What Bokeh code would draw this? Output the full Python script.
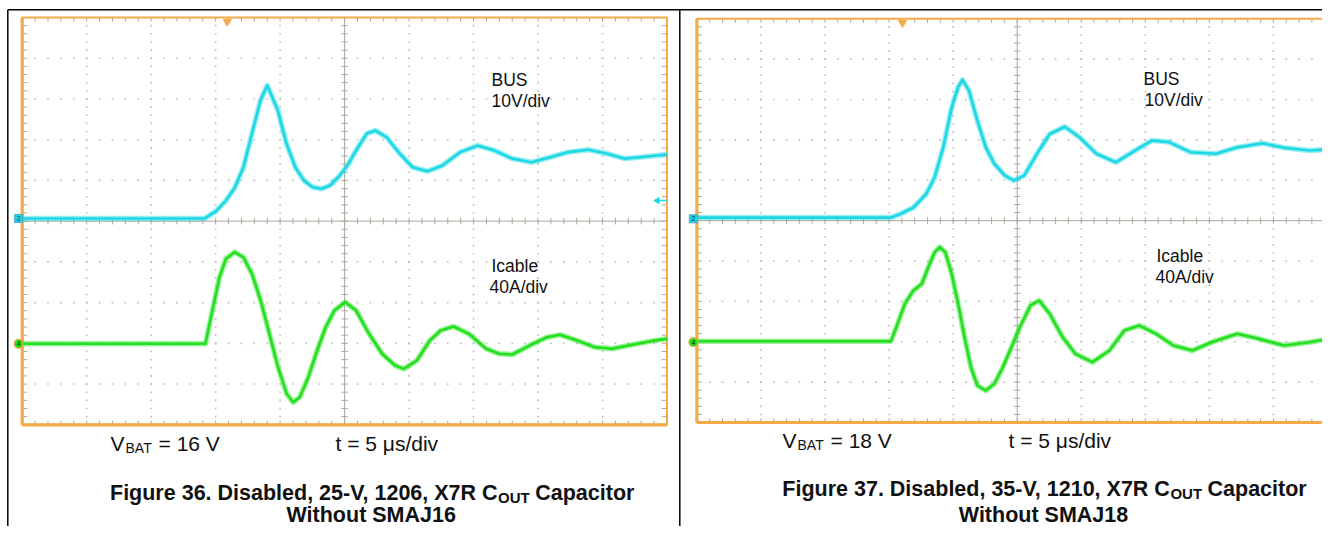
import math
import numpy as np
from bokeh.plotting import figure
from bokeh.models import Range1d
from bokeh.core.properties import value
from bokeh.embed import file_html
from bokeh.resources import INLINE

# ------------------------------------------------------------------ data
# time: µs from the left edge of each screen (5 µs/div, 10 div)
f36_bus_t = [0.0, 14.14, 15.03, 15.80, 16.46, 17.16, 17.82, 18.48, 19.00, 19.83,
             20.49, 21.19, 21.86, 22.51, 23.21, 23.87, 24.53, 25.22, 25.89, 26.73,
             27.40, 28.25, 29.26, 30.27, 31.43, 32.59, 33.96, 35.31, 36.62, 38.00,
             39.49, 41.02, 42.36, 43.88, 45.38, 46.73, 48.08, 50.0]
f36_bus_v = [0.0, 0.0, 1.8, 4.4, 7.4, 12.6, 20.9, 29.0, 32.7, 26.5,
             18.4, 12.5, 9.3, 7.7, 7.3, 8.1, 10.2, 13.0, 16.7, 20.9,
             21.6, 20.0, 16.0, 12.6, 11.6, 13.0, 16.3, 17.9, 16.7, 14.7,
             13.8, 15.1, 16.3, 16.9, 15.9, 14.7, 15.1, 15.7]
f36_icable_t = [0.0, 14.21, 14.80, 15.30, 15.80, 16.48, 17.15, 17.82, 18.49, 19.17,
                19.84, 20.51, 21.01, 21.52, 22.19, 22.87, 23.53, 24.21, 25.05, 25.89,
                26.90, 27.91, 28.92, 29.59, 30.60, 31.61, 32.45, 33.46, 34.63, 35.98,
                36.99, 38.00, 39.34, 40.69, 41.70, 43.04, 44.38, 45.73, 47.41, 48.76,
                50.0]
f36_icable_a = [0.0, 0.0, 35.9, 65.4, 83.5, 90.0, 85.0, 68.7, 42.5, 9.8,
                -23.0, -49.1, -57.4, -52.4, -32.8, -6.6, 16.3, 32.7, 40.9, 32.7,
                9.8, -9.8, -21.3, -24.6, -16.4, 3.2, 13.1, 17.0, 9.8, -4.9,
                -9.8, -10.5, -1.7, 6.5, 8.8, 3.2, -3.3, -4.9, -0.7, 2.6,
                4.9]
f37_bus_t = [0.0, 15.14, 15.89, 16.90, 17.89, 18.56, 19.23, 19.89, 20.39, 20.73,
             21.23, 21.89, 22.55, 23.22, 24.05, 24.72, 25.54, 26.54, 27.54, 28.70,
             29.87, 31.19, 32.69, 34.19, 35.53, 36.85, 38.52, 40.52, 42.18, 44.17,
             45.83, 47.83, 50.0]
f37_bus_v = [0.3, 0.3, 1.2, 2.8, 6.1, 10.3, 17.7, 27.6, 32.6, 34.4,
             31.8, 24.3, 17.7, 13.6, 10.7, 9.5, 10.7, 16.1, 21.0, 22.8,
             20.2, 16.1, 14.0, 16.9, 19.4, 19.0, 16.5, 16.1, 17.7, 18.7,
             17.6, 16.9, 17.3]
f37_icable_t = [0.0, 15.14, 15.57, 16.23, 16.90, 17.56, 18.06, 18.56, 18.96, 19.39,
                19.89, 20.39, 20.89, 21.39, 21.89, 22.55, 23.22, 23.88, 24.55, 25.21,
                26.04, 26.71, 27.54, 28.54, 29.54, 30.87, 32.20, 33.36, 34.53, 35.85,
                37.19, 38.68, 40.18, 42.18, 43.84, 45.83, 47.83, 50.0]
f37_icable_a = [1.0, 1.0, 14.9, 38.0, 51.2, 57.9, 74.3, 89.2, 94.1, 89.2,
                67.8, 38.0, 5.0, -24.8, -42.9, -47.9, -41.2, -24.8, -5.0, 14.9,
                36.4, 41.3, 28.1, 5.0, -11.5, -19.8, -8.2, 11.6, 16.5, 8.3,
                -3.3, -8.2, 0.0, 8.3, 3.4, -3.3, 0.0, 5.0]

trigger_t = [15.9, 16.05]              # µs, orange trigger-position marker
trigger_level_bus_v = [4.4, None]      # cyan level arrow (Figure 36)
trigger_level_icable_a = [None, 31.4]  # green level arrow (Figure 37)

VOLT_DIV, AMP_DIV, US_DIV = 10, 40, 5

bus_label = ["BUS", "10V/div"]
icable_label = ["Icable", "40A/div"]
vbat_values = ["16 V", "18 V"]
time_label = "t = 5 μs/div"
caption_line1 = [("Figure 36. Disabled, 25-V, 1206, X7R C", "OUT", "Capacitor"),
                 ("Figure 37. Disabled, 35-V, 1210, X7R C", "OUT", "Capacitor")]
caption_line2 = ["Without SMAJ16", "Without SMAJ18"]

traces = [(f36_bus_t, f36_bus_v, f36_icable_t, f36_icable_a),
          (f37_bus_t, f37_bus_v, f37_icable_t, f37_icable_a)]

# ------------------------------------------------------------------ layout
W, H = 1322, 526
PX0, PX1, PY0, PY1 = 0, W, 0, H
FONT = "Liberation Sans"
ORANGE = "#F5A947"
CYAN = "#1CD8E4"
GREEN = "#22E01E"
GRID = "#BDBDBD"
TICK = "#ABA79C"
BASE_SHIFT = 0.36   # em: renderer's baseline offset correction

SCOPES = [
    dict(left=21.7, right=666.5, top=17.0, bottom=424.3, g_bus=218.0, g_ica=343.3,
         bus_lbl=((491, 85.5), (491, 107)), ica_lbl=((491, 271.5), (489, 293)),
         vbat=(110, 451.0), tlab=(335, 451.0), cap_c=370.7, cap_y=(500.5, 522.5)),
    dict(left=696.4, right=1337.0, top=18.3, bottom=422.0, g_bus=218.3, g_ica=341.7,
         bus_lbl=((1143, 84.5), (1144, 106)), ica_lbl=((1156, 262), (1155, 282.5)),
         vbat=(782, 448.0), tlab=(1008, 448.0), cap_c=1043.0, cap_y=(496.5, 522.0)),
]

AR = {' ': .278, '=': .584, '1': .556, '6': .556, '8': .556, 'V': .667,
      'B': .667, 'A': .667, 'T': .611}
ARB = {'F': .611, 'i': .278, 'g': .611, 'u': .611, 'r': .389, 'e': .556, ' ': .278,
       '3': .556, '6': .556, '.': .278, 'D': .722, 's': .556, 'a': .556, 'b': .611,
       'l': .278, 'd': .611, ',': .278, '2': .556, '5': .556, '-': .333, 'V': .667,
       '1': .556, '0': .556, '7': .556, 'X': .667, 'R': .722, 'C': .722, 'O': .778,
       'U': .722, 'T': .611, 'p': .611, 'c': .556, 't': .333, 'o': .611}


def tw(s, size, bold=False):
    m = ARB if bold else AR
    return sum(m.get(ch, .556) for ch in s) * size


p = figure(width=W, height=H,
           x_range=Range1d(PX0, PX1), y_range=Range1d(PY1, PY0),
           x_axis_location=None, y_axis_location=None,
           output_backend="svg", toolbar_location=None, min_border=0,
           outline_line_color=None, background_fill_color="white",
           border_fill_color="white")
p.grid.visible = False


def txt(x, y, s, size, bold=False, align="left", color="#111111"):
    # y is the wanted baseline in page pixels
    p.text(x=[x], y=[y - BASE_SHIFT * size], text=[s], text_font=value(FONT),
           text_font_size=f"{size}px", text_font_style="bold" if bold else "normal",
           text_align=align, text_baseline="alphabetic", text_color=color)


# table lines
p.segment(x0=[7.3, 7.3, 679.3], y0=[9.3, 9.3, 9.3], x1=[PX1, 7.3, 679.3],
          y1=[9.3, PY1, PY1], line_color="#000000", line_width=1.5)

minor_x = np.round(np.arange(0, 10.0001, 0.2), 3)
minor_y = np.round(np.arange(-5, 5.0001, 0.2), 3)

for i, sc in enumerate(SCOPES):
    ppx = (sc["right"] - sc["left"]) / 10
    ppy = (sc["bottom"] - sc["top"]) / 10
    cy = (sc["top"] + sc["bottom"]) / 2
    dx, dy, tx, by, iy = f"dx{i}", f"dy{i}", f"t{i}", f"bus{i}", f"ica{i}"
    p.extra_x_ranges[dx] = Range1d((PX0 - sc["left"]) / ppx, (PX1 - sc["left"]) / ppx)
    p.extra_y_ranges[dy] = Range1d((cy - PY1) / ppy, (cy - PY0) / ppy)
    p.extra_x_ranges[tx] = Range1d(US_DIV * (PX0 - sc["left"]) / ppx,
                                   US_DIV * (PX1 - sc["left"]) / ppx)
    kb = ppy / VOLT_DIV
    p.extra_y_ranges[by] = Range1d((sc["g_bus"] - PY1) / kb, (sc["g_bus"] - PY0) / kb)
    ka = ppy / AMP_DIV
    p.extra_y_ranges[iy] = Range1d((sc["g_ica"] - PY1) / ka, (sc["g_ica"] - PY0) / ka)
    R = dict(x_range_name=dx, y_range_name=dy)

    # dotted graticule
    gx, gy = [], []
    for xv in [1, 2, 3, 4, 6, 7, 8, 9]:
        for yv in minor_y[1:-1]:
            gx.append(xv); gy.append(yv)
    for yv in [-4, -3, -2, -1, 1, 2, 3, 4]:
        for xv in minor_x[1:-1]:
            gx.append(xv); gy.append(yv)
    p.scatter(gx, gy, marker="square", size=1.6, fill_color=GRID, line_color=None, **R)

    # centre cross with minor ticks
    p.segment(x0=[5, 0], y0=[-5, 0], x1=[5, 10], y1=[5, 0], line_color=TICK,
              line_width=1, **R)
    p.segment(x0=minor_x, y0=[-0.08] * len(minor_x), x1=minor_x,
              y1=[0.08] * len(minor_x), line_color=TICK, line_width=1, **R)
    p.segment(x0=[4.95] * len(minor_y), y0=minor_y, x1=[5.05] * len(minor_y),
              y1=minor_y, line_color=TICK, line_width=1, **R)
    # edge ticks
    n = len(minor_x)
    p.segment(x0=minor_x, y0=[5] * n, x1=minor_x, y1=[4.9] * n, line_color=TICK,
              line_width=1, **R)
    p.segment(x0=minor_x, y0=[-5] * n, x1=minor_x, y1=[-4.9] * n, line_color=TICK,
              line_width=1, **R)
    m = len(minor_y)
    p.segment(x0=[0] * m, y0=minor_y, x1=[0.08] * m, y1=minor_y, line_color=TICK,
              line_width=1, **R)
    p.segment(x0=[10] * m, y0=minor_y, x1=[9.92] * m, y1=minor_y, line_color=TICK,
              line_width=1, **R)

    # orange frame
    p.quad(left=[0], right=[10], bottom=[-5], top=[5], fill_color=None,
           line_color=ORANGE, line_width=2, **R)
    p.segment(x0=[0, 0], y0=[-5, -5], x1=[0, 10], y1=[5, -5], line_color=ORANGE,
              line_width=3.2, **R)

    # traces: soft halo + core line (the scope's noisy band)
    bt, bv, it, ia = traces[i]
    for xs, ys, rng, col in ((bt, bv, by, CYAN), (it, ia, iy, GREEN)):
        p.line(xs, ys, x_range_name=tx, y_range_name=rng, line_color=col,
               line_width=5.5, line_alpha=0.45, line_join="round")
        p.line(xs, ys, x_range_name=tx, y_range_name=rng, line_color=col,
               line_width=2.6, line_join="round")

    # trigger position marker
    p.scatter([trigger_t[i]], [4.9], marker="inverted_triangle", size=8,
              fill_color=ORANGE, line_color=ORANGE, x_range_name=tx, y_range_name=dy)

    # channel ground markers
    p.scatter([-0.055], [0], marker="square", size=8, fill_color=CYAN,
              line_color="#4AA8C8", x_range_name=dx, y_range_name=by)
    p.text([-0.055], [0], text=["2"], text_font=value(FONT), text_font_size="7px",
           text_align="center", text_baseline="middle", text_color="#123060",
           x_range_name=dx, y_range_name=by)
    p.scatter([-0.055], [0], marker="circle", size=9, fill_color=GREEN,
              line_color=ORANGE, line_width=1.2, x_range_name=dx, y_range_name=iy)
    p.text([-0.055], [0], text=["4"], text_font=value(FONT), text_font_size="7px",
           text_align="center", text_baseline="middle", text_color="#103010",
           x_range_name=dx, y_range_name=iy)

    # trigger level arrows (right edge)
    for lvl, rng, col in ((trigger_level_bus_v[i], by, CYAN),
                          (trigger_level_icable_a[i], iy, GREEN)):
        if lvl is None:
            continue
        p.segment(x0=[9.84], y0=[lvl], x1=[10.0], y1=[lvl], line_color=col,
                  line_width=1.5, x_range_name=dx, y_range_name=rng)
        p.scatter([9.85], [lvl], marker="triangle", angle=math.pi / 2, size=6,
                  fill_color=col, line_color=col, x_range_name=dx, y_range_name=rng)

    # in-screen labels
    (x1, y1), (x2, y2) = sc["bus_lbl"]
    txt(x1, y1, bus_label[0], 17.5)
    txt(x2, y2, bus_label[1], 17.5)
    (x1, y1), (x2, y2) = sc["ica_lbl"]
    txt(x1, y1, icable_label[0], 17.5)
    txt(x2, y2, icable_label[1], 17.5)

    # V_BAT and time base
    vx, vy = sc["vbat"]
    F, FS = 21, 14
    txt(vx, vy, "V", F)
    bx = vx + tw("V", F) + 1
    txt(bx, vy + 4.5 - BASE_SHIFT * (F - FS), "BAT", FS)
    ex = bx + tw("BAT", FS) + tw(" ", F)
    txt(ex, vy, "= " + vbat_values[i], F)
    txt(sc["tlab"][0], sc["tlab"][1], time_label, F)

    # caption
    CF, CS = 21.5, 15
    a, sub, b = caption_line1[i]
    total = tw(a, CF, True) + tw(sub, CS, True) + tw(" " + b, CF, True)
    start = sc["cap_c"] - total / 2
    xc = start + tw(a, CF, True)
    y1, y2 = sc["cap_y"]
    txt(xc, y1, a, CF, bold=True, align="right")
    txt(xc + 0.5, y1 + 4.5 - BASE_SHIFT * (CF - CS), sub, CS, bold=True)
    txt(xc + tw(sub, CS, True) + tw(" ", CF, True), y1, b, CF, bold=True)
    txt(sc["cap_c"], y2, caption_line2[i], CF, bold=True, align="center")

open("out.html", "w").write(file_html(p, INLINE))
